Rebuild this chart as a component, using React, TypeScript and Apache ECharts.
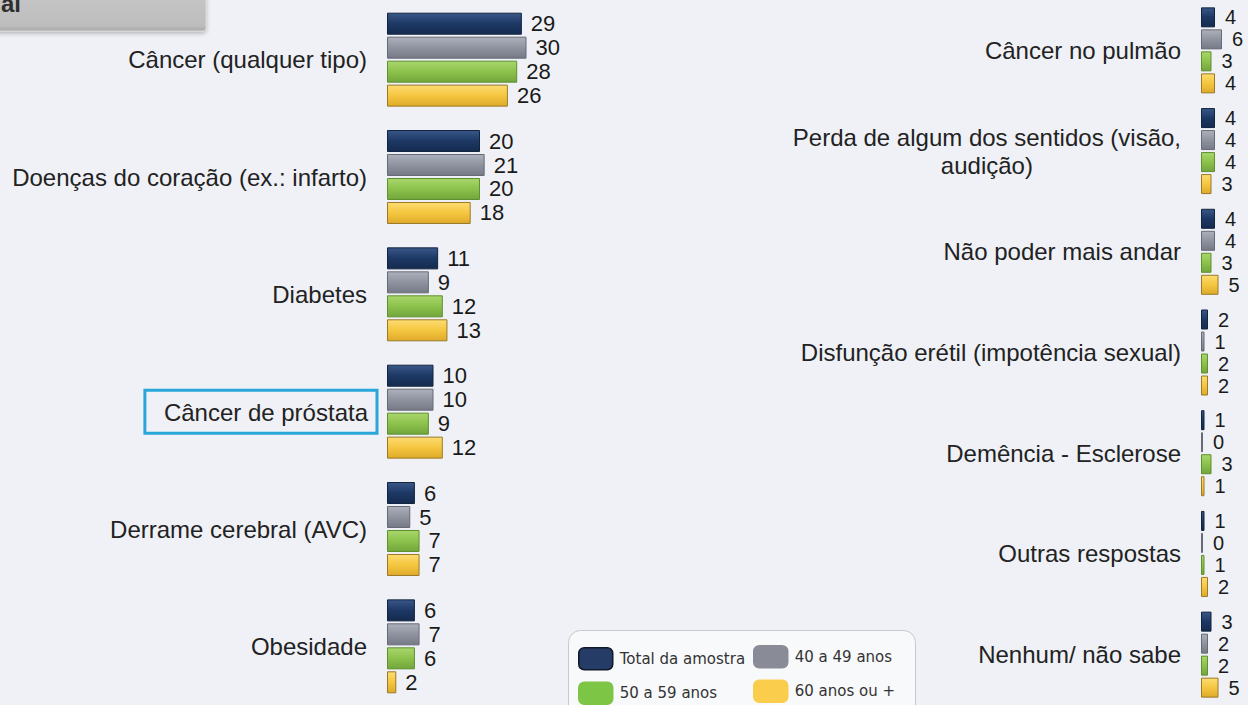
import React, { useEffect, useRef } from "react";
import * as echarts from "echarts";

const leftCategories = [
  "Câncer (qualquer tipo)",
  "Doenças do coração (ex.: infarto)",
  "Diabetes",
  "Câncer de próstata",
  "Derrame cerebral (AVC)",
  "Obesidade",
];
const rightCategories = [
  "Câncer no pulmão",
  "Perda de algum dos sentidos (visão, audição)",
  "Não poder mais andar",
  "Disfunção erétil (impotência sexual)",
  "Demência - Esclerose",
  "Outras respostas",
  "Nenhum/ não sabe",
];
const seriesNames = ["Total da amostra", "40 a 49 anos", "50 a 59 anos", "60 anos ou +"];

const leftTotal = [29, 20, 11, 10, 6, 6];
const left4049 = [30, 21, 9, 10, 5, 7];
const left5059 = [28, 20, 12, 9, 7, 6];
const left60 = [26, 18, 13, 12, 7, 2];

const rightTotal = [4, 4, 4, 2, 1, 1, 3];
const right4049 = [6, 4, 4, 1, 0, 0, 2];
const right5059 = [3, 4, 3, 2, 3, 1, 2];
const right60 = [4, 3, 5, 2, 1, 2, 5];

const highlightedCategory = "Câncer de próstata";
const twoLineCategory = "Perda de algum dos sentidos (visão, audição)";

const palettes = [
  { top: "#385788", mid: "#1d3864", bottom: "#152b4f", border: "#12233e", legend: "#253c66", legendBorder: "#111a2a" },
  { top: "#adb1bc", mid: "#8f939f", bottom: "#767a86", border: "#666a76", legend: "#898c97", legendBorder: "#898c97" },
  { top: "#a9d66c", mid: "#8cc24c", bottom: "#72a63c", border: "#5f8f2e", legend: "#7dc545", legendBorder: "#7dc545" },
  { top: "#fcdc70", mid: "#f5c640", bottom: "#deaa2a", border: "#9a7a28", legend: "#fbcd4c", legendBorder: "#fbcd4c" },
];

const FONT = "'Liberation Sans', Arial, sans-serif";

export default function App() {
  const ref = useRef<HTMLDivElement>(null);

  useEffect(() => {
    document.body.style.margin = "0";
    if (!ref.current) return;
    const chart = echarts.init(ref.current, undefined, { renderer: "svg" });

    const leftData = [leftTotal, left4049, left5059, left60];
    const rightData = [rightTotal, right4049, right5059, right60];

    const barStyle = (i: number) => ({
      color: new echarts.graphic.LinearGradient(0, 0, 0, 1, [
        { offset: 0, color: palettes[i].top },
        { offset: 0.5, color: palettes[i].mid },
        { offset: 1, color: palettes[i].bottom },
      ]),
      borderColor: palettes[i].border,
      borderWidth: 1,
    });

    const series: any[] = [];
    seriesNames.forEach((name, i) => {
      series.push({
        name,
        type: "bar",
        xAxisIndex: 0,
        yAxisIndex: 0,
        data: leftData[i],
        barWidth: 22,
        barGap: "9%",
        itemStyle: barStyle(i),
        label: {
          show: true,
          position: "right",
          distance: 9,
          fontSize: 22,
          fontFamily: FONT,
          color: "#1a1a1a",
        },
      });
      series.push({
        name,
        type: "bar",
        xAxisIndex: 1,
        yAxisIndex: 1,
        data: rightData[i],
        barWidth: 20,
        barGap: "10%",
        barMinHeight: 2,
        itemStyle: barStyle(i),
        label: {
          show: true,
          position: "right",
          distance: 10,
          fontSize: 20,
          fontFamily: FONT,
          color: "#1a1a1a",
        },
      });
    });

    const legendItem = (i: number) => ({
      name: seriesNames[i],
      itemStyle: { color: palettes[i].legend, borderColor: palettes[i].legendBorder, borderWidth: 1.5 },
    });
    const legendCommon = {
      orient: "vertical",
      icon: "roundRect",
      itemWidth: 34,
      itemHeight: 22,
      itemGap: 11,
      padding: 0,
      height: 70,
      selectedMode: false,
      textStyle: { fontSize: 15, fontFamily: "'DejaVu Sans', sans-serif", color: "#333", padding: [0, 0, 0, 2] },
    };

    chart.setOption({
      animation: false,
      backgroundColor: "#eff1f6",
      grid: [
        { left: 387, top: 1, width: 186, height: 709 },
        { left: 1201, top: 0, width: 35, height: 709 },
      ],
      xAxis: [
        { type: "value", gridIndex: 0, min: 0, max: 40, show: false },
        { type: "value", gridIndex: 1, min: 0, max: 10, show: false },
      ],
      yAxis: [
        {
          type: "category",
          gridIndex: 0,
          data: leftCategories,
          inverse: true,
          axisLine: { show: false },
          axisTick: { show: false },
          axisLabel: {
            interval: 0,
            margin: 10,
            fontSize: 24,
            fontFamily: FONT,
            color: "#222",
            formatter: (v: string) => (v === highlightedCategory ? `{box|${v}}` : `{n|${v}}`),
            rich: {
              n: { fontSize: 24, fontFamily: FONT, color: "#222", padding: [0, 10, 0, 0] },
              box: {
                fontSize: 24,
                fontFamily: FONT,
                color: "#222",
                borderColor: "#2aa6d9",
                borderWidth: 3,
                padding: [10, 9, 9, 19],
              },
            },
          },
        },
        {
          type: "category",
          gridIndex: 1,
          data: rightCategories,
          inverse: true,
          axisLine: { show: false },
          axisTick: { show: false },
          axisLabel: {
            interval: 0,
            margin: 20,
            fontSize: 24,
            fontFamily: FONT,
            color: "#222",
            formatter: (v: string) =>
              v === twoLineCategory
                ? "{c|Perda de algum dos sentidos (visão,}\n{c|audição)}"
                : `{n|${v}}`,
            rich: {
              n: { fontSize: 24, fontFamily: FONT, color: "#222" },
              c: { fontSize: 24, fontFamily: FONT, color: "#222", align: "center", lineHeight: 28 },
            },
          },
        },
      ],
      legend: [
        { ...legendCommon, left: 578, top: 647, data: [legendItem(0), legendItem(2)] },
        { ...legendCommon, left: 753, top: 645, data: [legendItem(1), legendItem(3)] },
      ],
      graphic: [
        {
          type: "rect",
          z: 0,
          shape: { x: 568.5, y: 630.5, width: 347, height: 90, r: 12 },
          style: { fill: "#f8f9fb", stroke: "#c8c9ce", lineWidth: 1 },
        },
        {
          type: "rect",
          z: 0,
          shape: { x: -6, y: -6, width: 212, height: 37, r: 3 },
          style: {
            fill: new echarts.graphic.LinearGradient(0, 0, 0, 1, [
              { offset: 0, color: "#c6c6c6" },
              { offset: 0.85, color: "#bdbdbd" },
              { offset: 1, color: "#a9a9a9" },
            ]),
            stroke: "#d8d8d8",
            lineWidth: 1,
            shadowColor: "rgba(0,0,0,0.25)",
            shadowBlur: 4,
            shadowOffsetY: 2,
          },
        },
        {
          type: "text",
          z: 1,
          x: 1,
          y: 15,
          style: {
            text: "al",
            fontSize: 24,
            fontWeight: "bold",
            fontFamily: FONT,
            fill: "#2f2f2f",
            textVerticalAlign: "bottom",
          },
        },
      ],
      series,
    });

    return () => chart.dispose();
  }, []);

  return <div ref={ref} style={{ width: 1248, height: 705 }} />;
}
